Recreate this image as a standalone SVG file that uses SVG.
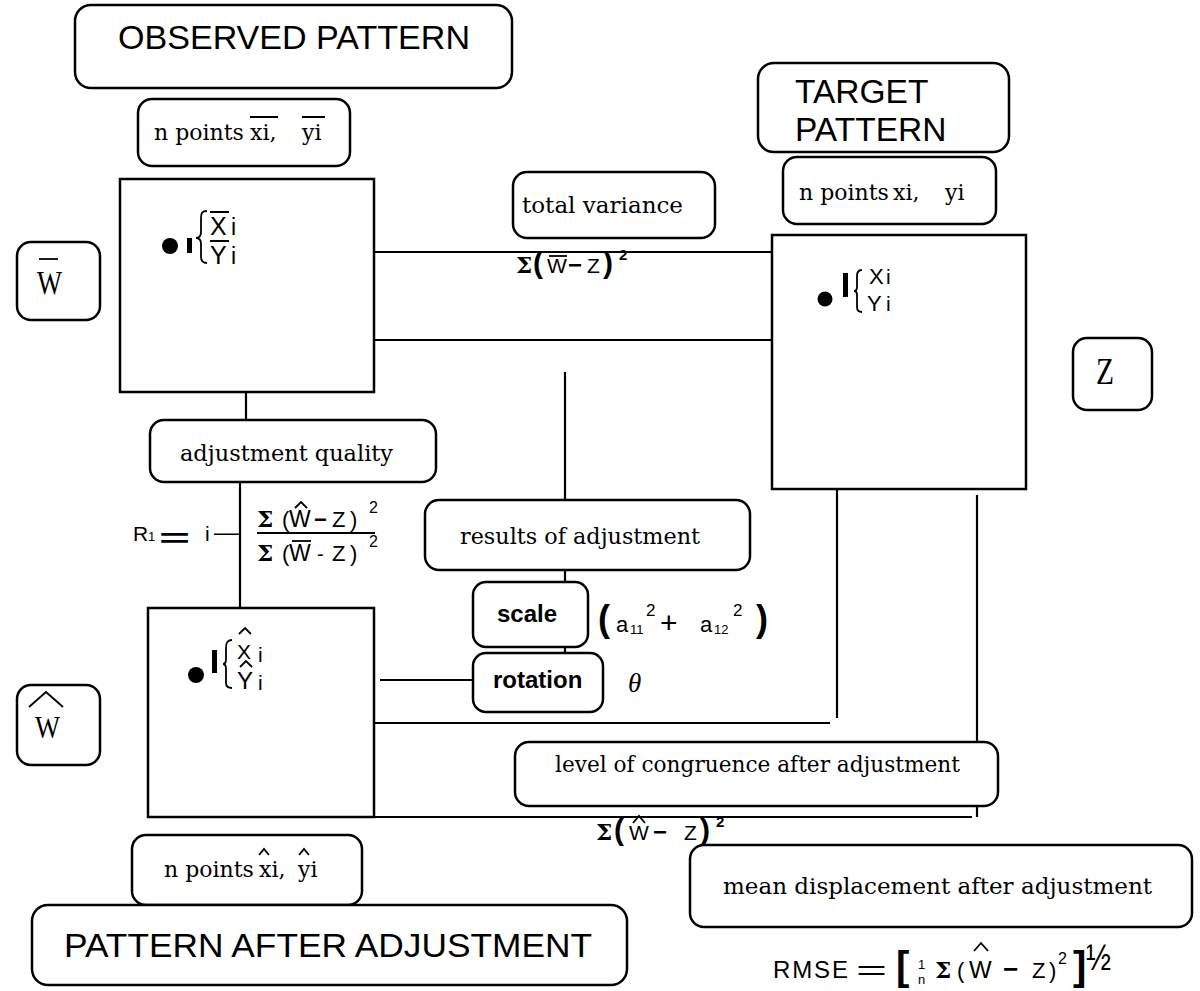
<svg xmlns="http://www.w3.org/2000/svg" width="1200" height="991" viewBox="0 0 1200 991">
<style>
.box{fill:#fff;stroke:#000;stroke-width:2.5}
.sq{fill:#fff;stroke:#000;stroke-width:2.5}
.ln{fill:none;stroke:#000;stroke-width:2.2}
.th{fill:none;stroke:#000;stroke-width:1.8}
.title{font-family:"Liberation Sans",Arial,sans-serif;font-size:33.5px;fill:#000}
.ser{font-family:"DejaVu Serif","Liberation Serif",serif;font-size:22px;fill:#000}
.sb{font-family:"Liberation Sans",Arial,sans-serif;font-size:24px;font-weight:bold;fill:#000}
.s{font-family:"Liberation Sans",Arial,sans-serif;fill:#000}
.sig{font-family:"DejaVu Serif","Liberation Serif",serif;font-weight:bold;font-size:23px;fill:#000}
.bw{font-weight:bold}
.lw{font-family:"Liberation Serif",serif;fill:#000}
</style>
<rect x="0" y="0" width="1200" height="991" fill="#fff"/>

<g id="connectors">
<path class="ln" d="M374,252 H772"/>
<path class="ln" d="M374,340 H772"/>
<path class="ln" d="M565,372 V500"/>
<path class="ln" d="M246,392 V420"/>
<path class="ln" d="M240,482 V608"/>
<path class="ln" d="M565,570 V582"/>
<path class="ln" d="M565,647 V653"/>
<path class="ln" d="M380,680 H473"/>
<path class="ln" d="M375,723 H830"/>
<path class="ln" d="M837,489 V718"/>
<path class="ln" d="M977,495 V817"/>
<path class="ln" d="M375,817 H972"/>
</g>

<g id="observed-pattern">
<rect class="box" x="75" y="5" width="437" height="83" rx="16"/>
<text class="title" x="118" y="49" textLength="352" lengthAdjust="spacingAndGlyphs">OBSERVED PATTERN</text>
</g>

<g id="observed-points">
<rect class="box" x="138" y="99" width="212" height="67" rx="14"/>
<text class="ser" x="154" y="140">n points</text>
<text class="ser" x="250" y="140">xi,</text>
<text class="ser" x="302" y="140">yi</text>
<path class="th" d="M250,117 H278 M302,117 H325"/>
</g>

<g id="observed-square">
<rect class="sq" x="120" y="179" width="254" height="213"/>
<circle cx="170" cy="246" r="8"/>
<rect x="187" y="238" width="5" height="15"/>
<path class="th" d="M207,211 C202,211 201,213 201,218 L201,232 C201,236 199,238 196,238 C199,238 201,240 201,244 L201,257 C201,261 203,263 207,263"/>
<text class="s" x="210" y="235" font-size="25">X</text>
<text class="s" x="231" y="235" font-size="23">i</text>
<text class="s" x="210" y="264" font-size="25">Y</text>
<text class="s" x="231" y="264" font-size="23">i</text>
<path class="th" d="M210,212 H229 M210,241 H229"/>
</g>

<g id="w-bar">
<rect class="box" x="17" y="242" width="83" height="78" rx="14"/>
<text class="lw" x="37" y="294" font-size="33" textLength="25" lengthAdjust="spacingAndGlyphs">W</text>
<path class="th" d="M39,259 H58"/>
</g>

<g id="total-variance">
<rect class="box" x="513" y="172" width="202" height="66" rx="14"/>
<text class="ser" x="522" y="213" textLength="161" lengthAdjust="spacingAndGlyphs">total variance</text>
</g>

<g id="total-variance-formula">
<text class="sig" x="516" y="273">Σ</text>
<text class="s bw" x="533" y="273" font-size="30">(</text>
<text class="s" x="547" y="273" font-size="21">W</text>
<path class="th" d="M549,256 H567"/>
<text class="s bw" x="568" y="273" font-size="24">−</text>
<text class="s" x="587" y="273" font-size="21">Z</text>
<text class="s bw" x="603" y="273" font-size="30">)</text>
<text class="s bw" x="619" y="260" font-size="15">2</text>
</g>

<g id="target-pattern">
<rect class="box" x="758" y="63" width="251" height="89" rx="16"/>
<text class="title" x="795" y="103">TARGET</text>
<text class="title" x="795" y="141">PATTERN</text>
</g>

<g id="target-points">
<rect class="box" x="783" y="157" width="213" height="67" rx="14"/>
<text class="ser" x="799" y="200">n points</text>
<text class="ser" x="893" y="200">xi,</text>
<text class="ser" x="945" y="200">yi</text>
</g>

<g id="target-square">
<rect class="sq" x="772" y="235" width="254" height="254"/>
<circle cx="825" cy="299" r="7.5"/>
<rect x="843" y="273" width="5" height="24"/>
<path class="th" d="M862,270 C858,270 857,272 857,276 L857,287 C857,290 856,291 854,291 C856,291 857,292 857,295 L857,307 C857,310 859,312 862,312"/>
<text class="s" x="869" y="284" font-size="22">X</text>
<text class="s" x="886" y="284" font-size="21">i</text>
<text class="s" x="867" y="311" font-size="22">Y</text>
<text class="s" x="886" y="311" font-size="21">i</text>
</g>

<g id="z">
<rect class="box" x="1073" y="338" width="79" height="72" rx="14"/>
<text class="lw" x="1096" y="384" font-size="38" textLength="18" lengthAdjust="spacingAndGlyphs">Z</text>
</g>

<g id="adjustment-quality">
<rect class="box" x="150" y="420" width="286" height="62" rx="14"/>
<text class="ser" x="180" y="461" textLength="213" lengthAdjust="spacingAndGlyphs">adjustment quality</text>
</g>

<g id="r1-formula">
<text class="s" x="133" y="541" font-size="21">R</text>
<text class="s" x="148" y="541" font-size="13">1</text>
<text class="s bw" x="159" y="547" font-size="26" textLength="31" lengthAdjust="spacingAndGlyphs">=</text>
<text class="s" x="205" y="541" font-size="21">i</text>
<text class="s" x="214" y="540" font-size="22" textLength="25" lengthAdjust="spacingAndGlyphs">—</text>
<path class="ln" d="M257,533 H375"/>
<text class="sig" x="257" y="527">Σ</text>
<text class="s" x="282" y="527" font-size="22">(</text>
<text class="s" x="289" y="527" font-size="23">W</text>
<path class="th" d="M295,508 L301,502 L307,508"/>
<text class="s bw" x="314" y="527" font-size="22">−</text>
<text class="s" x="332" y="527" font-size="22">Z</text>
<text class="s" x="350" y="527" font-size="22">)</text>
<text class="s" x="369" y="513" font-size="16">2</text>
<text class="sig" x="257" y="561">Σ</text>
<text class="s" x="282" y="561" font-size="22">(</text>
<text class="s" x="289" y="561" font-size="23">W</text>
<path class="th" d="M292,541 H311"/>
<text class="s" x="317" y="561" font-size="20">-</text>
<text class="s" x="332" y="561" font-size="22">Z</text>
<text class="s" x="350" y="561" font-size="22">)</text>
<text class="s" x="369" y="547" font-size="16">2</text>
</g>

<g id="results-of-adjustment">
<rect class="box" x="425" y="500" width="325" height="70" rx="14"/>
<text class="ser" x="460" y="544" textLength="240" lengthAdjust="spacingAndGlyphs">results of adjustment</text>
</g>

<g id="scale">
<rect class="box" x="473" y="582" width="115" height="65" rx="13"/>
<text class="sb" x="497" y="622">scale</text>
</g>

<g id="scale-formula">
<text class="s bw" x="598" y="631" font-size="36">(</text>
<text class="s" x="616" y="632" font-size="22">a</text>
<text class="s" x="630" y="634" font-size="13">11</text>
<text class="s" x="646" y="616" font-size="17">2</text>
<text class="s" x="660" y="633" font-size="30">+</text>
<text class="s" x="700" y="632" font-size="22">a</text>
<text class="s" x="714" y="634" font-size="13">12</text>
<text class="s" x="733" y="616" font-size="17">2</text>
<text class="s bw" x="756" y="631" font-size="36">)</text>
</g>

<g id="rotation">
<rect class="box" x="473" y="653" width="130" height="59" rx="13"/>
<text class="sb" x="493" y="688">rotation</text>
</g>
<text class="lw" x="628" y="692" font-size="27" font-style="italic">θ</text>

<g id="adjusted-square">
<rect class="sq" x="148" y="608" width="226" height="209"/>
<circle cx="196" cy="675" r="8"/>
<rect x="212" y="650" width="5" height="23"/>
<path class="th" d="M232,640 C227,640 226,643 226,648 L226,659 C226,662 225,664 223,664 C225,664 226,666 226,669 L226,683 C226,686 228,688 232,688"/>
<text class="s" x="237" y="659" font-size="21">X</text>
<path class="th" d="M239,634 L245,628 L251,634"/>
<text class="s" x="258" y="662" font-size="21">i</text>
<text class="s" x="237" y="689" font-size="24">Y</text>
<path class="th" d="M240,667 L246,661 L252,667"/>
<text class="s" x="258" y="690" font-size="21">i</text>
</g>

<g id="w-hat">
<rect class="box" x="17" y="685" width="83" height="80" rx="14"/>
<text class="lw" x="35" y="738" font-size="32" textLength="25" lengthAdjust="spacingAndGlyphs">W</text>
<path class="th" d="M29,707 L46,692 L63,707"/>
</g>

<g id="level-of-congruence">
<rect class="box" x="515" y="742" width="483" height="64" rx="14"/>
<text class="ser" x="555" y="772" textLength="405" lengthAdjust="spacingAndGlyphs">level of congruence after adjustment</text>
</g>

<g id="congruence-formula">
<text class="sig" x="596" y="840">Σ</text>
<text class="s bw" x="614" y="840" font-size="30">(</text>
<text class="s" x="629" y="840" font-size="21">W</text>
<path class="th" d="M633,823 L639,816 L645,823"/>
<text class="s bw" x="653" y="840" font-size="24">−</text>
<text class="s" x="684" y="840" font-size="21">Z</text>
<text class="s bw" x="700" y="840" font-size="30">)</text>
<text class="s bw" x="716" y="827" font-size="15">2</text>
</g>

<g id="adjusted-points">
<rect class="box" x="132" y="835" width="230" height="70" rx="14"/>
<text class="ser" x="164" y="877">n points</text>
<text class="ser" x="259" y="877">xi,</text>
<text class="ser" x="298" y="877">yi</text>
<path class="th" d="M259,855 L264,849 L269,855 M299,855 L304,849 L309,855"/>
</g>

<g id="pattern-after-adjustment">
<rect class="box" x="32" y="905" width="595" height="80" rx="16"/>
<text class="title" x="64" y="957" textLength="528" lengthAdjust="spacingAndGlyphs">PATTERN AFTER ADJUSTMENT</text>
</g>

<g id="mean-displacement">
<rect class="box" x="690" y="845" width="502" height="82" rx="14"/>
<text class="ser" x="723" y="894" textLength="429" lengthAdjust="spacingAndGlyphs">mean displacement after adjustment</text>
</g>

<g id="rmse-formula">
<text class="s" x="773" y="978" font-size="24" textLength="75" lengthAdjust="spacing">RMSE</text>
<text class="s" x="856" y="980" font-size="27" textLength="31" lengthAdjust="spacingAndGlyphs">=</text>
<text class="s bw" x="896" y="980" font-size="40">[</text>
<text class="s" x="918" y="969" font-size="13">1</text>
<text class="s" x="918" y="984" font-size="13">n</text>
<text class="sig" x="935" y="978">Σ</text>
<text class="s" x="957" y="978" font-size="22">(</text>
<text class="s" x="969" y="978" font-size="24">W</text>
<path class="th" d="M974,951 L981,943 L988,951"/>
<text class="s bw" x="1003" y="978" font-size="26">−</text>
<text class="s" x="1032" y="978" font-size="22">Z</text>
<text class="s" x="1049" y="978" font-size="22">)</text>
<text class="s" x="1058" y="964" font-size="16">2</text>
<text class="s bw" x="1073" y="980" font-size="40">]</text>
<text class="s" x="1086" y="970" font-size="36" textLength="25" lengthAdjust="spacingAndGlyphs">½</text>
</g>
</svg>
